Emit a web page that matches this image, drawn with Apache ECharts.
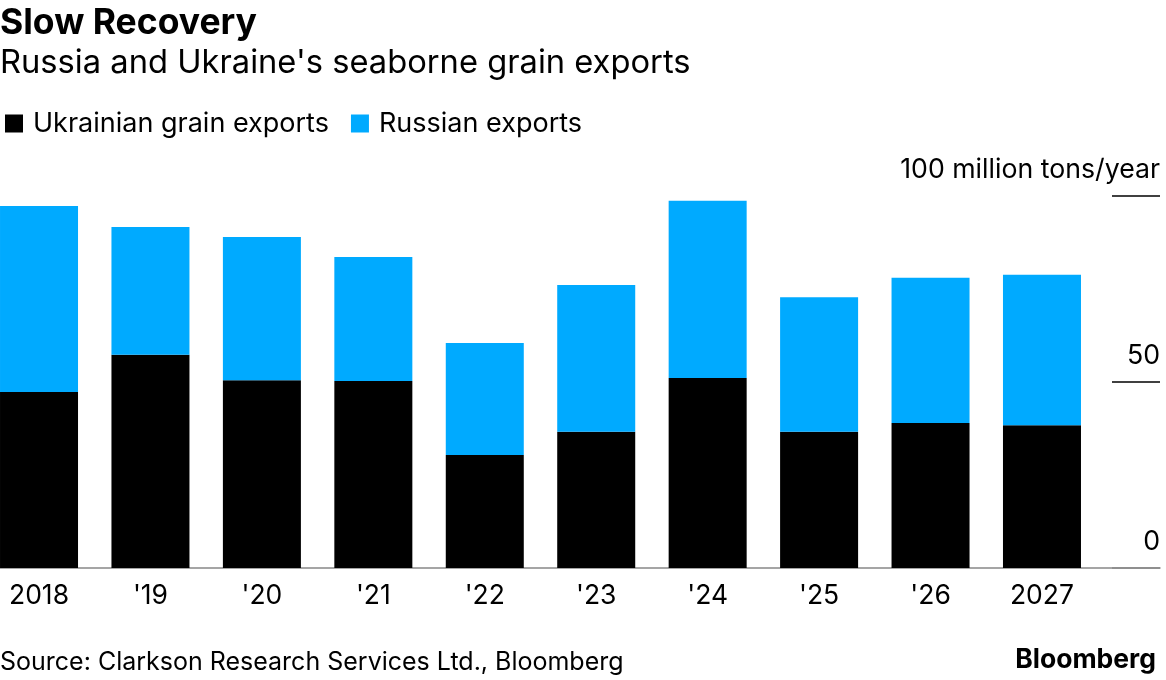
<!DOCTYPE html>
<html>
<head>
<meta charset="utf-8">
<script src="https://cdn.jsdelivr.net/npm/echarts@6/dist/echarts.min.js"></script>
<style>
html,body{margin:0;padding:0;background:#fff;}
#chart{width:1166px;height:680px;}
</style>
</head>
<body>
<div id="chart"></div>
<script>
const categories = ['2018', "'19", "'20", "'21", "'22", "'23", "'24", "'25", "'26", '2027'];
const ukrainian = [47.3, 57.3, 50.5, 50.3, 30.4, 36.6, 51.1, 36.6, 39.0, 38.4];
const russian = [50.0, 34.4, 38.5, 33.3, 30.1, 39.5, 47.6, 36.2, 39.0, 40.4];
const yTicks = [0, 50, 100];

const FONT = 'Inter';
const chart = echarts.init(document.getElementById('chart'));
const gridTop = 196, gridBottom = 112;

chart.setOption({
  backgroundColor: '#fff',
  animation: false,
  textStyle: { fontFamily: FONT, color: '#000' },
  title: [
    { text: 'Slow Recovery', left: 0, top: 5, padding: 0,
      textStyle: { fontFamily: FONT, fontSize: 35.5, fontWeight: 'bold', color: '#000' } },
    { text: "Russia and Ukraine's seaborne grain exports", left: 0, top: 47, padding: 0,
      textStyle: { fontFamily: FONT, fontSize: 32.7, fontWeight: 'normal', color: '#000' } },
    { text: 'Source: Clarkson Research Services Ltd., Bloomberg', left: 0, top: 650, padding: 0,
      textStyle: { fontFamily: FONT, fontSize: 25, fontWeight: 'normal', color: '#000' } },
    { text: 'Bloomberg', right: 10, top: 647, padding: 0,
      textStyle: { fontFamily: FONT, fontSize: 26.5, fontWeight: 'bold', color: '#000' } }
  ],
  legend: {
    left: 5, top: 110, padding: 0,
    icon: 'rect', itemWidth: 18, itemHeight: 18, itemGap: 22,
    textStyle: { fontFamily: FONT, fontSize: 27, color: '#000', padding: [0, 0, 0, 5] },
    data: ['Ukrainian grain exports', 'Russian exports']
  },
  grid: [
    { left: -16.7, width: 1114.4, top: gridTop, bottom: gridBottom, containLabel: false, outerBoundsMode: 'none' },
    { left: 1112, right: 6, top: gridTop, bottom: gridBottom, containLabel: false, outerBoundsMode: 'none' },
    { left: 0, right: 6, top: gridTop, bottom: gridBottom, containLabel: false, outerBoundsMode: 'none' }
  ],
  xAxis: [
    { type: 'category', gridIndex: 0, data: categories,
      axisLine: { show: false }, axisTick: { show: false },
      axisLabel: { fontFamily: FONT, fontSize: 26.5, color: '#000', margin: 15 } },
    { type: 'value', gridIndex: 1, show: false },
    { type: 'value', gridIndex: 2, min: 0, max: 1,
      axisLine: { show: true, onZero: false, lineStyle: { color: '#888', width: 1.5 } },
      axisTick: { show: false }, axisLabel: { show: false }, splitLine: { show: false } }
  ],
  yAxis: [
    { type: 'value', gridIndex: 0, min: 0, max: 100, show: false },
    { type: 'value', gridIndex: 1, min: yTicks[0], max: yTicks[yTicks.length - 1], interval: 50,
      position: 'right',
      axisLine: { show: false }, axisTick: { show: false },
      axisLabel: { inside: true, margin: 0, verticalAlign: 'bottom', padding: [0, 0, 13, 0],
        fontFamily: FONT, fontSize: 26.7, color: '#000',
        formatter: v => v === 100 ? '100 million tons/year' : String(v) },
      splitLine: { show: true, lineStyle: { color: ['#888', '#000', '#000'], width: 1.5 } } },
    { type: 'value', gridIndex: 2, min: 0, max: 100, show: false }
  ],
  series: [
    { name: 'Ukrainian grain exports', type: 'bar', stack: 'total', xAxisIndex: 0, yAxisIndex: 0,
      data: ukrainian, barCategoryGap: '30%', itemStyle: { color: '#000' } },
    { name: 'Russian exports', type: 'bar', stack: 'total', xAxisIndex: 0, yAxisIndex: 0,
      data: russian, barCategoryGap: '30%', itemStyle: { color: '#00aaff' } }
  ]
});
</script>
</body>
</html>
